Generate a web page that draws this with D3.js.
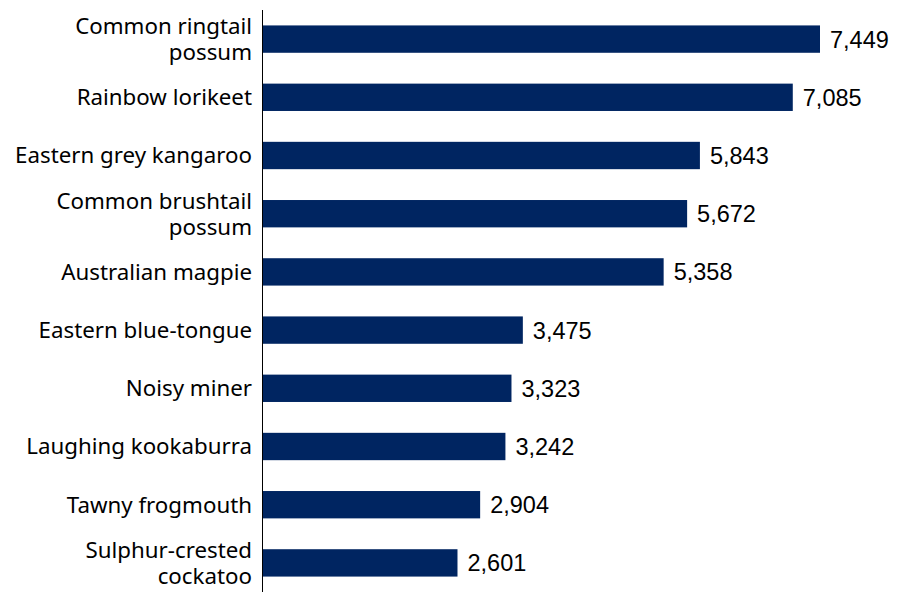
<!DOCTYPE html>
<html>
<head>
<meta charset="utf-8">
<script src="https://cdn.jsdelivr.net/npm/d3@7"></script>
<style>
  html, body { margin: 0; padding: 0; background: #ffffff; }
  svg { display: block; }
</style>
</head>
<body>
<svg id="chart" width="906" height="592"></svg>
<script>
// Species counts, largest first
const species = [
  ["Common ringtail", "possum"],
  ["Rainbow lorikeet"],
  ["Eastern grey kangaroo"],
  ["Common brushtail", "possum"],
  ["Australian magpie"],
  ["Eastern blue-tongue"],
  ["Noisy miner"],
  ["Laughing kookaburra"],
  ["Tawny frogmouth"],
  ["Sulphur-crested", "cockatoo"]
];
const counts = [7449, 7085, 5843, 5672, 5358, 3475, 3323, 3242, 2904, 2601];

const width = 906, height = 592;
const margin = { top: 10, right: 0, bottom: 0, left: 263 };

const svg = d3.select("#chart");

const keys = species.map((d, i) => i);

const y = d3.scaleBand()
  .domain(keys)
  .range([margin.top, height - margin.bottom])
  .paddingInner(0.53)
  .paddingOuter(0.265);

const x = d3.scaleLinear()
  .domain([0, 7449])
  .range([margin.left, 820]);

// Bars
svg.append("g")
  .selectAll("rect")
  .data(counts)
  .join("rect")
  .attr("x", x(0))
  .attr("y", (d, i) => y(i))
  .attr("width", d => x(d) - x(0))
  .attr("height", y.bandwidth())
  .attr("fill", "#002561");

// Value labels
const fmt = d3.format(",");
svg.append("g")
  .selectAll("text")
  .data(counts)
  .join("text")
  .attr("x", d => x(d) + 10)
  .attr("y", (d, i) => y(i) + y.bandwidth() / 2)
  .attr("dy", "0.36em")
  .attr("font-family", "'Liberation Sans', Arial, sans-serif")
  .attr("font-size", 23.5)
  .attr("fill", "#000")
  .text(d => fmt(d));

// Category axis
const axis = d3.axisLeft(y).tickSize(0).tickFormat(() => "");
const gAxis = svg.append("g")
  .attr("transform", `translate(${margin.left},0)`)
  .call(axis);
gAxis.select(".domain").remove();
svg.append("line")
  .attr("x1", margin.left - 0.5).attr("x2", margin.left - 0.5)
  .attr("y1", margin.top).attr("y2", height)
  .attr("stroke", "#000").attr("stroke-width", 1);

// Category labels, wrapped names get one text per line
const lineH = 26;
const labelGroups = svg.append("g")
  .selectAll("g")
  .data(species)
  .join("g");

labelGroups.selectAll("text")
  .data((d, i) => d.map((line, j) => ({
    line,
    y: y(i) + y.bandwidth() / 2 + (j - (d.length - 1) / 2) * lineH
  })))
  .join("text")
  .attr("text-anchor", "end")
  .attr("font-family", "'Noto Sans', 'Open Sans', sans-serif")
  .attr("font-size", 22.3)
  .attr("fill", "#000")
  .attr("x", margin.left - 11)
  .attr("y", d => d.y)
  .attr("dy", "0.35em")
  .text(d => d.line);
</script>
</body>
</html>
